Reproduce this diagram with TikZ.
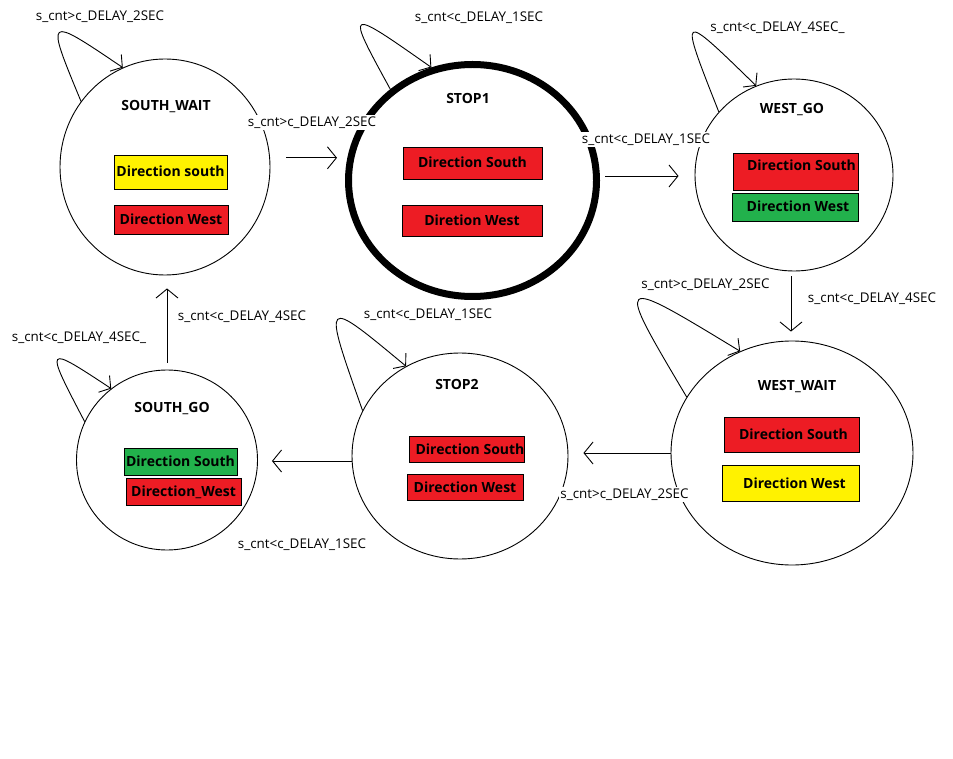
\documentclass[tikz,border=0pt]{standalone}
\usepackage{fontspec}
\setmainfont{Open Sans}
\usetikzlibrary{arrows.meta,shapes.geometric}
\definecolor{pred}{HTML}{ED1C24}
\definecolor{pyel}{HTML}{FFF200}
\definecolor{pgrn}{HTML}{22B14C}
\begin{document}
\begin{tikzpicture}[x=1pt,y=-1pt,
  state/.style={ellipse,draw,line width=0.9pt,inner sep=0pt},
  title/.style={font=\fontsize{14}{16}\selectfont\bfseries,anchor=base,inner sep=0pt},
  lbl/.style={font=\fontsize{13.4}{15}\selectfont,anchor=base,fill=white,inner sep=1.5pt},
  box/.style={draw,line width=0.9pt,inner sep=0pt,text height=10pt,text depth=0pt,
    font=\fontsize{14}{16}\selectfont\bfseries},
  arr/.style={line width=0.9pt,-{Straight Barb[length=9pt,width=22pt]}},
  selfloop/.style={line width=0.9pt,-{Straight Barb[length=8pt,width=20pt]}}]
\fill[white] (0,0) rectangle (953,759);
\useasboundingbox (0,0) rectangle (953,759);

% states
\node[state,minimum width=210pt,minimum height=216pt] (sw) at (165,167) {};
\node[state,line width=7pt,minimum width=248pt,minimum height=232pt] (stop1) at (472.5,180.5) {};
\node[state,minimum width=198pt,minimum height=192pt] (wg) at (794,175) {};
\node[state,minimum width=242pt,minimum height=224pt] (ww) at (792,453) {};
\node[state,minimum width=216pt,minimum height=206pt] (s2) at (460,456) {};
\node[state,minimum width=181pt,minimum height=180pt] (sg) at (167,460) {};

% titles
\node[title] (swt) at (166,111) {SOUTH\_WAIT};
\node[title] (s1t) at (468,104) {STOP1};
\node[title] (wgt) at (792,114) {WEST\_GO};
\node[title] (wwt) at (797,390) {WEST\_WAIT};
\node[title] (s2t) at (457,389) {STOP2};
\node[title] (sgt) at (172,412) {SOUTH\_GO};

% light boxes
\node[box,fill=pyel,minimum width=113pt,minimum height=34pt] (swb1) at (170.5,172) {Direction south};
\node[box,fill=pred,minimum width=114pt,minimum height=29pt] (swb2) at (171,219.5) {Direction West};
\node[box,fill=pred,minimum width=139pt,minimum height=32pt] (s1b1) at (472.5,163) {Direction South};
\node[box,fill=pred,minimum width=140pt,minimum height=31pt] (s1b2) at (472,220.5) {Diretion West};
\node[box,fill=pred,minimum width=125pt,minimum height=37pt,text depth=11pt] (wgb1) at (795.5,171.5) {\hspace*{12pt}Direction South};
\node[box,fill=pgrn,minimum width=126pt,minimum height=28pt] (wgb2) at (795,207) {\hspace*{6pt}Direction West};
\node[box,fill=pred,minimum width=135pt,minimum height=35pt] (wwb1) at (791.5,434.5) {\hspace*{4pt}Direction South};
\node[box,fill=pyel,minimum width=137pt,minimum height=36pt] (wwb2) at (790.5,483) {\hspace*{8pt}Direction West};
\node[box,fill=pred,minimum width=114pt,minimum height=26pt] (s2b1) at (467,449) {\hspace*{6pt}Direction South};
\node[box,fill=pred,minimum width=116pt,minimum height=26pt] (s2b2) at (465,487) {Direction West};
\node[box,fill=pgrn,minimum width=113pt,minimum height=27pt] (sgb1) at (180.5,461.5) {Direction South};
\node[box,fill=pred,minimum width=115pt,minimum height=27pt] (sgb2) at (183.5,491.5) {Direction\_West};

% self loops (curve control points)
\coordinate (swq) at (45.3,15.2);
\coordinate (s1q) at (345.3,7);
\coordinate (wgq) at (678.7,10.3);
\coordinate (wwq) at (614.1,274.7);
\coordinate (s2q) at (322.2,296.5);
\coordinate (sgq) at (44.3,344.5);
\draw[selfloop] (sw.142) .. controls (swq) .. (sw.113);
\draw[selfloop] (stop1.132) .. controls (s1q) .. (stop1.110);
\draw[selfloop] (wg.140) .. controls (wgq) .. (wg.113);
\draw[selfloop] (ww.152) .. controls (wwq) .. (ww.117);
\draw[selfloop] (s2.155) .. controls (s2q) .. (s2.121);
\draw[selfloop] (sg.155) .. controls (sgq) .. (sg.128);

% transitions
\draw[arr,shorten <=16pt,shorten >=8pt] (sw.5) -- (sw.5 -| stop1.west);
\draw[arr,shorten <=5pt,shorten >=16pt] ([yshift=4.5pt]stop1.east) -- ([yshift=4.5pt]stop1.east -| wg.west);
\draw[arr,shorten <=5pt,shorten >=9pt] ([xshift=-3pt]wg.south) -- ([xshift=-3pt]wg.south |- ww.north);
\draw[arr,shorten >=15pt] (ww.west) -- (ww.west -| s2.east);
\draw[arr,shorten >=14pt] ([yshift=-5pt]s2.west) -- ([yshift=-5pt]s2.west -| sg.east);
\draw[arr,shorten <=7pt,shorten >=13pt] (sg.north) -- (sg.north |- sw.south);

% labels
\node[lbl] (lA) at (100,20.5) {s\_cnt>c\_DELAY\_2SEC};
\node[lbl] (lB) at (312,126.5) {s\_cnt>c\_DELAY\_2SEC};
\node[lbl] (lC) at (479,21.5) {s\_cnt<c\_DELAY\_1SEC};
\node[lbl] (lD) at (646,143.5) {s\_cnt<c\_DELAY\_1SEC};
\node[lbl] (lE) at (777.5,31.5) {s\_cnt<c\_DELAY\_4SEC\_};
\node[lbl] (lF) at (705.5,288.5) {s\_cnt>c\_DELAY\_2SEC};
\node[lbl] (lG) at (872,302.5) {s\_cnt<c\_DELAY\_4SEC};
\node[lbl] (lH) at (624.5,498.5) {s\_cnt>c\_DELAY\_2SEC};
\node[lbl] (lI) at (428,318.5) {s\_cnt<c\_DELAY\_1SEC};
\node[lbl] (lJ) at (302,548.5) {s\_cnt<c\_DELAY\_1SEC};
\node[lbl] (lK) at (79,341.5) {s\_cnt<c\_DELAY\_4SEC\_};
\node[lbl] (lL) at (242,320.5) {s\_cnt<c\_DELAY\_4SEC};
\end{tikzpicture}
\end{document}
